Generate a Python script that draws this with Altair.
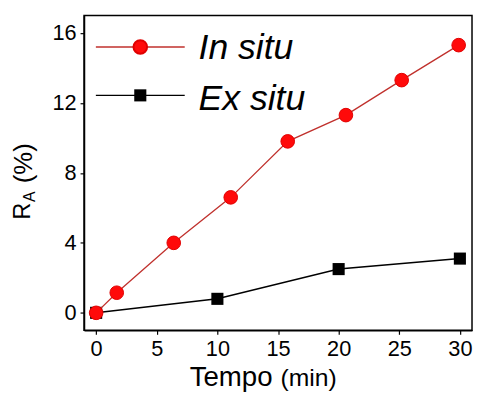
import altair as alt
import pandas as pd

# ---- data ----
series = ["In situ", "Ex situ"]
in_x = [0, 1.7, 6.4, 11.1, 15.8, 20.6, 25.2, 29.9]
in_y = [0, 1.15, 4.0, 6.6, 9.8, 11.3, 13.3, 15.3]
ex_x = [0, 10, 20, 30]
ex_y = [0, 0.8, 2.5, 3.1]
x_ticks = [0, 2.5, 5, 7.5, 10, 12.5, 15, 17.5, 20, 22.5, 25, 27.5, 30]
y_ticks = [0, 2, 4, 6, 8, 10, 12, 14, 16]

df_in = pd.DataFrame({"t": in_x, "r": in_y, "s": series[0]})
df_ex = pd.DataFrame({"t": ex_x, "r": ex_y, "s": series[1]})

FONT = "Liberation Sans"
RED = "#ff0a0a"
RED_LINE = "#c0302c"

xs = alt.Scale(domain=[-1, 31], nice=False, zero=False)
ys = alt.Scale(domain=[-1, 17], nice=False, zero=False)

x_enc = alt.X("t:Q", scale=xs, title=None,
              axis=alt.Axis(values=x_ticks, format="d",
                            labelExpr="datum.value % 5 == 0 ? datum.label : ''"))
y_enc = alt.Y("r:Q", scale=ys, title=None,
              axis=alt.Axis(values=y_ticks, format="d",
                            labelExpr="datum.value % 4 == 0 ? datum.label : ''"))

ex_line = alt.Chart(df_ex).mark_line(color="black", strokeWidth=1.5).encode(x=x_enc, y=y_enc)
ex_pts = alt.Chart(df_ex).mark_point(shape="square", filled=True, color="black",
                                     size=150, opacity=1).encode(x="t:Q", y="r:Q")
in_line = alt.Chart(df_in).mark_line(color=RED_LINE, strokeWidth=1.3).encode(x="t:Q", y="r:Q")
in_pts = alt.Chart(df_in).mark_point(shape="circle", filled=True, fill=RED,
                                     stroke="#e00000", strokeWidth=1, size=190,
                                     opacity=1).encode(x="t:Q", y="r:Q")

# ---- manual legend ----
leg_in = alt.Data(values=[{"label": series[0]}])
leg_ex = alt.Data(values=[{"label": series[1]}])

l1_rule = alt.Chart(leg_in).mark_rule(color=RED_LINE, strokeWidth=1.3).encode(
    x=alt.value(12), x2=alt.value(102), y=alt.value(32))
l1_pt = alt.Chart(leg_in).mark_point(shape="circle", filled=True, fill=RED, stroke="#e00000",
                                     size=190, opacity=1).encode(x=alt.value(57), y=alt.value(32))
l1_txt = alt.Chart(leg_in).mark_text(font=FONT, fontSize=36, fontStyle="italic", align="left",
                                     baseline="alphabetic", color="black").encode(
    x=alt.value(116), y=alt.value(44), text="label:N")
l2_rule = alt.Chart(leg_ex).mark_rule(color="black", strokeWidth=1.3).encode(
    x=alt.value(12), x2=alt.value(102), y=alt.value(81))
l2_pt = alt.Chart(leg_ex).mark_point(shape="square", filled=True, color="black",
                                     size=150, opacity=1).encode(x=alt.value(57), y=alt.value(81))
l2_txt = alt.Chart(leg_ex).mark_text(font=FONT, fontSize=36, fontStyle="italic", align="left",
                                     baseline="alphabetic", color="black").encode(
    x=alt.value(116), y=alt.value(96), text="label:N")

# ---- axis titles (manual, for subscript and mixed sizes) ----
tdat = alt.Data(values=[{"a": "R", "b": "A", "c": "(%)", "d": "Tempo", "e": "(min)"}])
yt_R = alt.Chart(tdat).mark_text(font=FONT, fontSize=24, angle=270, align="left",
                                 baseline="alphabetic", color="black").encode(
    x=alt.value(-55), y=alt.value(207), text="a:N")
yt_A = alt.Chart(tdat).mark_text(font=FONT, fontSize=16, angle=270, align="left",
                                 baseline="alphabetic", color="black").encode(
    x=alt.value(-50), y=alt.value(189), text="b:N")
yt_P = alt.Chart(tdat).mark_text(font=FONT, fontSize=26, angle=270, align="left",
                                 baseline="alphabetic", color="black").encode(
    x=alt.value(-53), y=alt.value(170), text="c:N")
xt_T = alt.Chart(tdat).mark_text(font=FONT, fontSize=28, align="left",
                                 baseline="alphabetic", color="black").encode(
    x=alt.value(107), y=alt.value(375), text="d:N")
xt_M = alt.Chart(tdat).mark_text(font=FONT, fontSize=25, align="left",
                                 baseline="alphabetic", color="black").encode(
    x=alt.value(199), y=alt.value(375), text="e:N")

chart = alt.layer(
    ex_line, ex_pts, in_line, in_pts,
    l1_rule, l1_pt, l1_txt, l2_rule, l2_pt, l2_txt,
    yt_R, yt_A, yt_P, xt_T, xt_M,
).properties(
    width=393, height=319,
    autosize=alt.AutoSizeParams(type="none"),
    padding={"left": 77, "top": 5, "right": 1, "bottom": 62},
    background="white",
).configure_view(
    stroke="black", strokeWidth=1.5,
).configure_axis(
    grid=False, domainColor="black", domainWidth=1.5,
    tickColor="black", tickSize=4, tickWidth=1.2,
    labelFont=FONT, labelFontSize=22, labelColor="black", labelPadding=4,
)

chart.save("out.html", embed_options={"renderer": "svg", "actions": False})
